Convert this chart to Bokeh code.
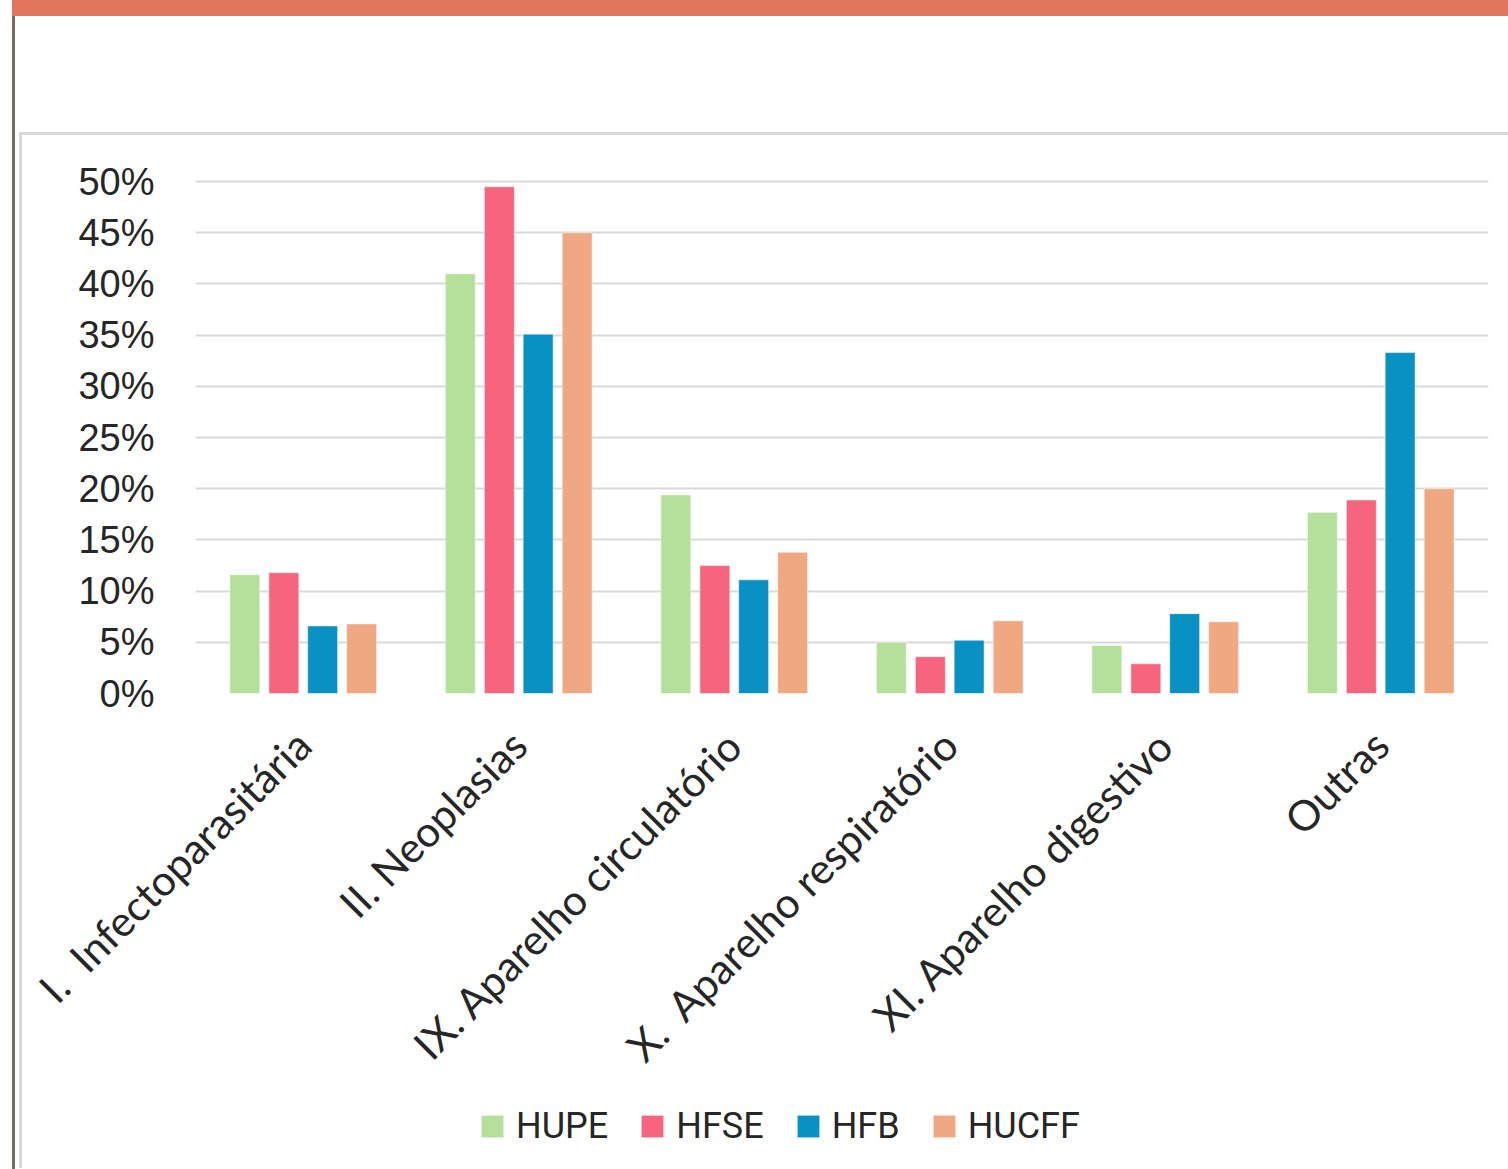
from bokeh.plotting import figure
from bokeh.models import (ColumnDataSource, FactorRange, FixedTicker, Legend, LegendItem, Range1d)
from bokeh.layouts import column
from bokeh.transform import dodge
from bokeh.embed import file_html
from bokeh.resources import INLINE

categories = ["I.\u00a0\u00a0Infectoparasitária", "II. Neoplasias", "IX. Aparelho circulatório",
              "X.\u00a0\u00a0Aparelho respiratório", "XI. Aparelho digestivo", "Outras"]
series = ["HUPE", "HFSE", "HFB", "HUCFF"]
hupe = [11.6, 41.0, 19.4, 5.0, 4.7, 17.7]
hfse = [11.8, 49.5, 12.5, 3.6, 2.9, 18.9]
hfb = [6.6, 35.1, 11.1, 5.2, 7.8, 33.3]
hucff = [6.8, 45.0, 13.8, 7.1, 7.0, 20.0]
colors = ["#B5E09C", "#F6657D", "#0A91C4", "#EFA881"]
y_ticks = [0, 5, 10, 15, 20, 25, 30, 35, 40, 45, 50]
y_tick_labels = ["0%", "5%", "10%", "15%", "20%", "25%", "30%", "35%", "40%", "45%", "50%"]

src = ColumnDataSource(dict(cat=categories, HUPE=hupe, HFSE=hfse, HFB=hfb, HUCFF=hucff))

W = 1508
H_MAIN = 1100
H_LEG = 69

p = figure(width=W, height=H_MAIN, x_range=FactorRange(*categories, range_padding=0),
           y_range=Range1d(0, 50.5), output_backend="svg", toolbar_location=None,
           min_border_left=195, min_border_right=20, min_border_top=176,
           min_border_bottom=H_MAIN - 693)
p.background_fill_color = "white"
p.border_fill_alpha = 0
p.outline_line_color = None

offsets = [-0.271, -0.09, 0.09, 0.271]
for s, off, c in zip(series, offsets, colors):
    p.vbar(x=dodge("cat", off, range=p.x_range), top=s, width=0.139, source=src,
           fill_color=c, line_color="white", line_alpha=0.5, line_width=1)

# axes
p.yaxis.ticker = FixedTicker(ticks=y_ticks)
p.yaxis.major_label_overrides = {t: l for t, l in zip(y_ticks, y_tick_labels)}
p.yaxis.axis_line_color = None
p.yaxis.major_tick_line_color = None
p.yaxis.minor_tick_line_color = None
p.yaxis.major_label_standoff = 35
p.yaxis.major_label_text_font = "Liberation Sans"
p.yaxis.major_label_text_font_size = "38px"
p.yaxis.major_label_text_color = "#262626"

p.xaxis.axis_line_color = None
p.xaxis.major_tick_line_color = None
p.xaxis.minor_tick_line_color = None
p.xaxis.major_label_orientation = 0.785398
p.xaxis.major_label_standoff = 38
p.xaxis.major_label_text_font = "Lato"
p.xaxis.major_label_text_font_size = "42px"
p.xaxis.major_label_text_color = "#262626"

p.xgrid.visible = False
p.ygrid.grid_line_color = "#D9D9D9"
p.ygrid.grid_line_width = 2

# legend strip (same series, swatches only; its bars lie outside its y range)
pl = figure(width=W, height=H_LEG, x_range=FactorRange(*categories), y_range=Range1d(1000, 1001),
            output_backend="svg", toolbar_location=None,
            x_axis_location=None, y_axis_location=None,
            min_border_left=0, min_border_right=0, min_border_top=0, min_border_bottom=0)
pl.background_fill_alpha = 0
pl.border_fill_alpha = 0
pl.outline_line_color = None
pl.grid.visible = False
leg_renderers = []
for s, off, c in zip(series, offsets, colors):
    r = pl.vbar(x=dodge("cat", off, range=pl.x_range), top=s, width=0.139, source=src,
                fill_color=c, line_color="white", line_alpha=0.5, line_width=1)
    leg_renderers.append(r)

legend = Legend(items=[LegendItem(label=s, renderers=[r]) for s, r in zip(series, leg_renderers)],
                orientation="horizontal", location=(283, 22))
legend.label_text_font = "Roboto"
legend.label_text_font_size = "36px"
legend.label_text_color = "#262626"
legend.glyph_width = 28
legend.glyph_height = 28
legend.label_standoff = 10
legend.spacing = 30
legend.padding = 0
legend.margin = 0
legend.border_line_color = None
legend.background_fill_alpha = 0
pl.add_layout(legend, "center")

layout = column(p, pl, spacing=0)
layout.styles = {
    "background-color": "white",
    "background-image": ("linear-gradient(#E1765D,#E1765D), linear-gradient(#786C64,#786C64), "
                         "linear-gradient(#D9D9D9,#D9D9D9), linear-gradient(#D9D9D9,#D9D9D9)"),
    "background-size": "1496px 16px, 3px 1153px, 1488px 3px, 3px 1036px",
    "background-position": "12px 0px, 12px 16px, 20px 132px, 19px 132px",
    "background-repeat": "no-repeat",
}

open("out.html", "w").write(file_html(layout, INLINE))
